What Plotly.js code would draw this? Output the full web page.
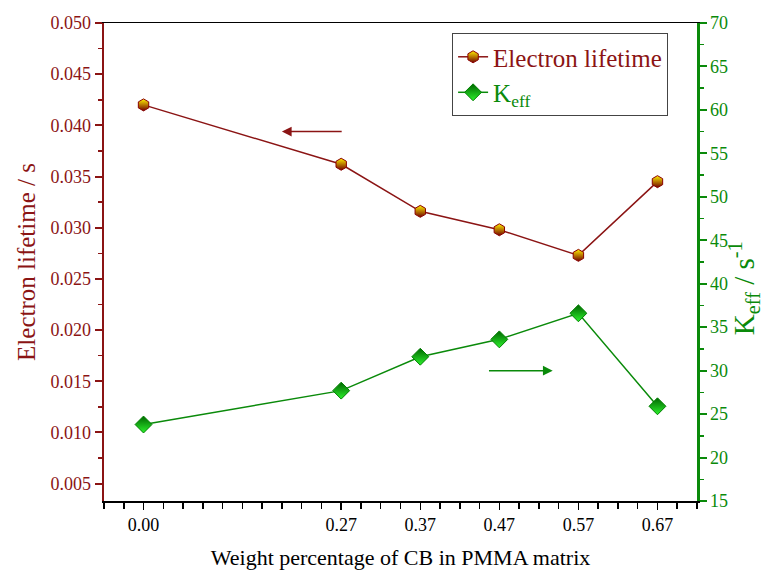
<!DOCTYPE html>
<html>
<head>
<meta charset="utf-8">
<script src="https://cdn.plot.ly/plotly-3.0.1.min.js"></script>
<style>html,body{margin:0;padding:0;background:#fff;}#chart{width:773px;height:570px;}</style>
</head>
<body>
<div id="chart"></div>
<script>
// Weight percentage labels (x categories) and their plotted axis positions
const wtLabels = ["0.00", "0.27", "0.37", "0.47", "0.57", "0.67"];
const wtPos = [1, 6, 8, 10, 12, 14];
// Electron lifetime (s)
const lifetime = [0.0420, 0.0362, 0.0316, 0.0298, 0.0273, 0.0345];
// Keff (s^-1)
const keff = [23.8, 27.7, 31.6, 33.6, 36.6, 25.9];

const RED = '#8B1414';
const GREEN = '#0A8A0A';
const FONT = 'Liberation Serif, Times New Roman, serif';

const traces = [
  {
    x: wtPos, y: lifetime, yaxis: 'y', type: 'scatter', mode: 'lines+markers',
    name: '<span style="color:' + RED + '">Electron lifetime</span>',
    line: {color: RED, width: 1.5},
    marker: {symbol: 'hexagon', size: 12, color: '#FFF000',
             gradient: {type: 'vertical', color: '#700000'},
             line: {color: '#8B0000', width: 1}}
  },
  {
    x: wtPos, y: keff, yaxis: 'y2', type: 'scatter', mode: 'lines+markers',
    name: '<span style="color:' + GREEN + '">K<sub>eff</sub></span>',
    line: {color: GREEN, width: 1.5},
    marker: {symbol: 'diamond', size: 13, color: '#006400',
             gradient: {type: 'vertical', color: '#2CF22C'},
             line: {color: '#008000', width: 1}}
  }
];

const layout = {
  width: 773, height: 570,
  margin: {l: 104, r: 76, t: 23, b: 69},
  paper_bgcolor: '#fff', plot_bgcolor: '#fff',
  font: {family: FONT, size: 18, color: '#000'},
  showlegend: true,
  legend: {
    x: 0.587, y: 0.979, xanchor: 'left', yanchor: 'top',
    bgcolor: '#fff', bordercolor: '#444', borderwidth: 1,
    font: {family: FONT, size: 25, color: '#000'},
    tracegroupgap: 0, itemwidth: 30
  },
  xaxis: {
    range: [0, 15], tickmode: 'array', tickvals: wtPos, ticktext: wtLabels,
    showgrid: false, zeroline: false,
    showline: true, linecolor: '#000', linewidth: 1.5, mirror: true,
    ticks: 'outside', ticklen: 7, tickwidth: 1.5, tickcolor: '#000',
    minor: {dtick: 0.5, tick0: 0, ticks: 'outside', ticklen: 6, tickwidth: 1.5, tickcolor: '#000', showgrid: false},
    tickfont: {family: FONT, size: 18, color: '#000'},
    title: {text: 'Weight percentage of CB in PMMA matrix', font: {family: FONT, size: 22, color: '#000'}, standoff: 18}
  },
  yaxis: {
    range: [0.0033, 0.050], dtick: 0.005, tick0: 0, tickformat: '.3f',
    showgrid: false, zeroline: false,
    showline: true, linecolor: RED, linewidth: 2.5,
    ticks: 'outside', ticklen: 7, tickwidth: 2, tickcolor: RED,
    minor: {dtick: 0.0025, tick0: 0, ticks: 'outside', ticklen: 4, tickwidth: 1.5, tickcolor: RED, showgrid: false},
    tickfont: {family: FONT, size: 18, color: RED},
    title: {text: 'Electron lifetime / s', font: {family: FONT, size: 25, color: RED}, standoff: 8}
  },
  yaxis2: {
    overlaying: 'y', side: 'right', anchor: 'x',
    range: [15, 70], dtick: 5, tick0: 0,
    showgrid: false, zeroline: false,
    showline: true, linecolor: GREEN, linewidth: 2.5,
    ticks: 'outside', ticklen: 7, tickwidth: 2, tickcolor: GREEN,
    minor: {dtick: 2.5, tick0: 0, ticks: 'outside', ticklen: 4, tickwidth: 1.5, tickcolor: GREEN, showgrid: false},
    tickfont: {family: FONT, size: 18, color: GREEN}
  },
  annotations: [
    {x: 4.5, y: 0.0394, xref: 'x', yref: 'y', ax: 6.05, ay: 0.0394, axref: 'x', ayref: 'y',
     showarrow: true, arrowhead: 2, arrowsize: 1.3, arrowwidth: 1.5, arrowcolor: RED, text: ''},
    {x: 11.35, y: 30.0, xref: 'x', yref: 'y2', ax: 9.7, ay: 30.0, axref: 'x', ayref: 'y2',
     showarrow: true, arrowhead: 2, arrowsize: 1.3, arrowwidth: 1.5, arrowcolor: GREEN, text: ''},
    {x: 1.079, y: 0.445, xref: 'paper', yref: 'paper', xanchor: 'center', yanchor: 'middle',
     showarrow: false, textangle: -90,
     text: 'K<sub>eff</sub> / s<sup>-1</sup>', font: {family: FONT, size: 29, color: GREEN}}
  ]
};

Plotly.newPlot('chart', traces, layout, {displayModeBar: false, staticPlot: true});
</script>
</body>
</html>
